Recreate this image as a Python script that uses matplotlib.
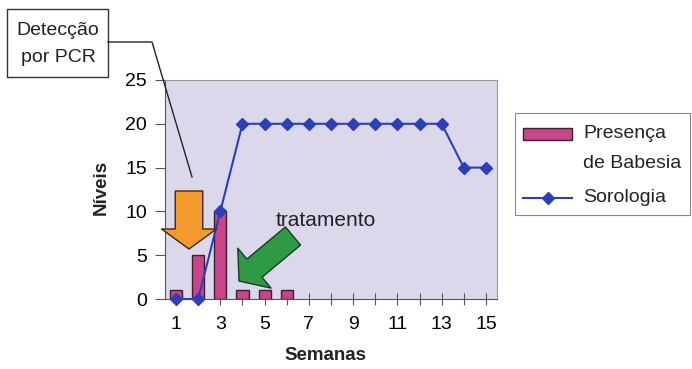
import matplotlib.pyplot as plt
from matplotlib.patches import Rectangle

plt.rcParams['font.family'] = ['Liberation Sans', 'DejaVu Sans']

# semanas e valores
semanas = list(range(1, 16))
babesia_semanas = [1, 2, 3, 4, 5, 6]
babesia = [1, 5, 10, 1, 1, 1]
sorologia = [0, 0, 10, 20, 20, 20, 20, 20, 20, 20, 20, 20, 20, 15, 15]
xtick_labels = ['1', '3', '5', '7', '9', '11', '13', '15']
yticks = [0, 5, 10, 15, 20, 25]

bar_color = '#c8458a'
line_color = '#2b3fb8'

W, H = 692, 369
fig = plt.figure(figsize=(W / 100, H / 100), dpi=100)
ax = fig.add_axes([165 / W, 1 - 299 / H, 332 / W, 219 / H])
ax.set_facecolor('#dcd8ec')

ax.bar(babesia_semanas, babesia, width=0.55, color=bar_color,
       edgecolor='#3a2030', linewidth=1.0, zorder=2)
ax.plot(semanas, sorologia, color=line_color, marker='D', markersize=6,
        linewidth=1.5, zorder=3, clip_on=False)

ax.set_xlim(0.5, 15.5)
ax.set_ylim(0, 25)
ax.set_xticks(semanas)
ax.set_xticklabels([str(s) if str(s) in xtick_labels else '' for s in semanas])
ax.set_yticks(yticks)
ax.tick_params(axis='x', direction='inout', length=8, labelsize=14, color='#555555', pad=8)
ax.tick_params(axis='y', direction='out', length=7, labelsize=14, color='#555555', pad=6)
for side in ['top', 'right']:
    ax.spines[side].set_color('#999999')
for side in ['left', 'bottom']:
    ax.spines[side].set_color('#555555')

fig.text(101 / W, 1 - 187 / H, 'Níveis', rotation=90, ha='center', va='center',
         fontsize=13.5, fontweight='bold', color='#222222')
fig.text(325 / W, 1 - 356 / H, 'Semanas', ha='center', va='center',
         fontsize=13.5, fontweight='bold', color='#222222')

# legenda desenhada a mao (caixa, amostras e textos)
fig.add_artist(Rectangle((515 / W, 1 - 215 / H), 175 / W, 102 / H, transform=fig.transFigure,
                         fc='white', ec='#888888', lw=0.8))
fig.add_artist(Rectangle((523 / W, 1 - 140 / H), 49 / W, 12 / H, transform=fig.transFigure,
                         fc=bar_color, ec='#3a2030', lw=1.0))
fig.text(583 / W, 1 - 134 / H, 'Presença', ha='left', va='center', fontsize=14, color='#222222')
fig.text(583 / W, 1 - 163 / H, 'de Babesia', ha='left', va='center', fontsize=14, color='#222222')
fig.add_artist(plt.Line2D([523 / W, 572 / W], [1 - 198 / H, 1 - 198 / H],
                          color=line_color, lw=1.5))
fig.add_artist(plt.Line2D([547.5 / W], [1 - 198 / H], color=line_color,
                          marker='D', markersize=6))
fig.text(583 / W, 1 - 198 / H, 'Sorologia', ha='left', va='center', fontsize=14, color='#222222')

# caixa "Deteccao por PCR"
fig.add_artist(Rectangle((7 / W, 1 - 77 / H), 101 / W, 68 / H, transform=fig.transFigure,
                         fc='white', ec='#333333', lw=1.0))
fig.text(58 / W, 1 - 44 / H, 'Detecção\npor PCR', ha='center', va='center',
         fontsize=14, linespacing=1.75, color='#222222')
fig.add_artist(plt.Line2D([108 / W, 152 / W, 192 / W],
                          [1 - 42 / H, 1 - 42 / H, 1 - 177 / H],
                          color='#222222', lw=1.0))

# seta laranja
ax.annotate('', xy=(189, H - 249), xytext=(189, H - 191),
            xycoords='figure pixels', textcoords='figure pixels',
            arrowprops=dict(arrowstyle='simple,head_length=0.8,head_width=2.2,tail_width=1.1',
                            fc='#f39a2c', ec='#3a2a10', lw=1.0, mutation_scale=18,
                            shrinkA=0, shrinkB=0))

# seta verde
ax.annotate('', xy=(239, H - 281), xytext=(293, H - 236),
            xycoords='figure pixels', textcoords='figure pixels',
            arrowprops=dict(arrowstyle='simple,head_length=0.85,head_width=2.2,tail_width=1.0',
                            fc='#2f9a45', ec='#1a3a20', lw=1.0, mutation_scale=17,
                            shrinkA=0, shrinkB=0))
fig.text(276 / W, 1 - 221 / H, 'tratamento', ha='left', va='center', fontsize=15,
         color='#222222')

fig.savefig('out.png', dpi=100)
